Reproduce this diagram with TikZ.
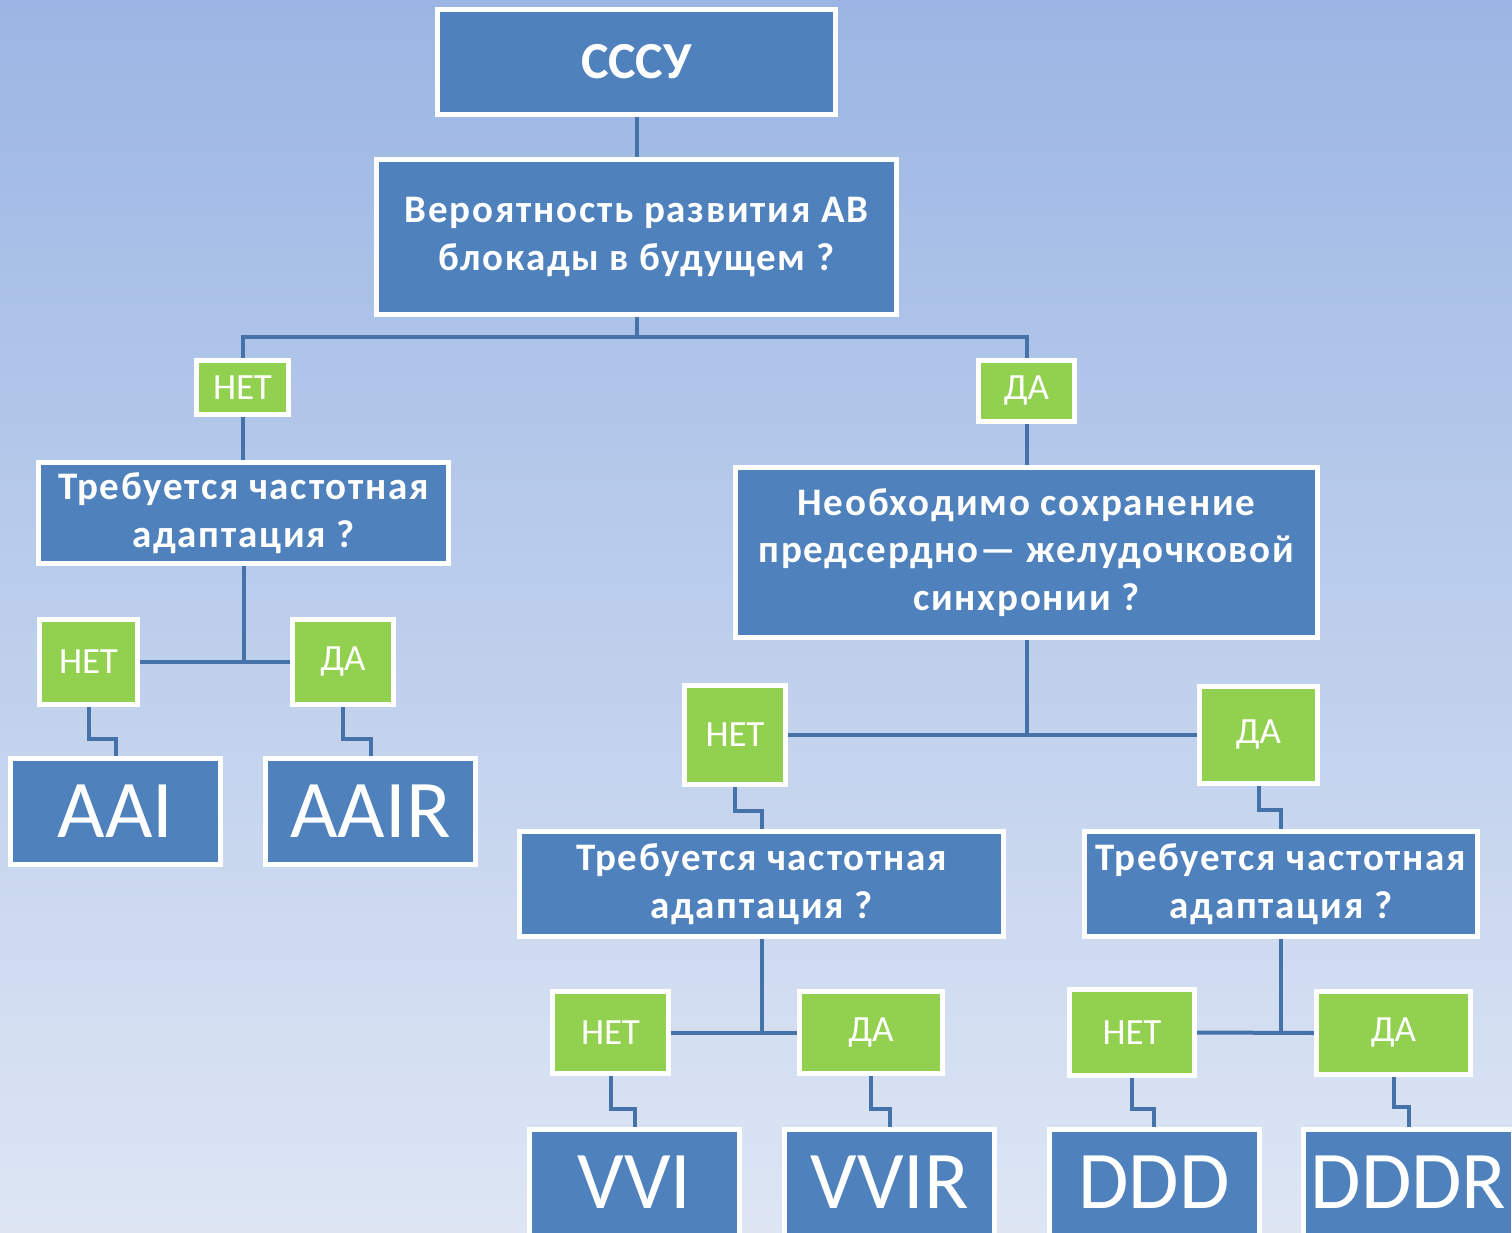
\documentclass[tikz,border=0pt]{standalone}
\usepackage{fontspec}
\setmainfont{Carlito}
\newfontfamily\qfont[LetterSpace=4.5]{Carlito}
\usetikzlibrary{calc}
\definecolor{boxblue}{RGB}{79,129,189}
\definecolor{lblgreen}{RGB}{146,208,80}
\definecolor{conn}{RGB}{70,114,170}
\definecolor{bgtop}{RGB}{155,182,228}
\definecolor{bgbot}{RGB}{222,230,244}
\pgfdeclarelayer{bglayer}
\pgfdeclarelayer{links}
\pgfsetlayers{bglayer,links,main}
\begin{document}
\begin{tikzpicture}[x=1pt,y=-1pt,
  base/.style={draw=white, line width=5pt, inner sep=0pt, text=white, align=center},
  qbox/.style={base, fill=boxblue, font=\qfont\bfseries\fontsize{39}{47.5}\selectfont},
  lbl/.style={base, fill=lblgreen, font=\fontsize{37}{40}\selectfont},
  mode/.style={base, fill=boxblue, font=\fontsize{82}{90}\selectfont, minimum width=210pt, minimum height=106pt},
  sz/.style 2 args={minimum width=#1pt, minimum height=#2pt},
  link/.style={draw=conn, line width=4pt}]
\useasboundingbox (0,0) rectangle (1512,1233);
\begin{pgfonlayer}{bglayer}
  \fill[top color=bgtop, bottom color=bgbot] (0,0) rectangle (1512,1233);
\end{pgfonlayer}

\node[qbox, sz={398}{105}, font=\bfseries\fontsize{52}{60}\selectfont] (top) at (636.5,62) {СССУ};
\node[qbox, sz={520}{155}] (q1) at (636.5,237) {Вероятность развития АВ\\блокады в будущем ?};
\node[lbl, sz={92}{54}] (n1) at (242.5,387.5) {НЕТ};
\node[lbl, sz={96}{61}] (d1) at (1026.5,391) {ДА};
\node[qbox, sz={410}{101}] (qL) at (243.5,513) {Требуется частотная\\адаптация ?};
\node[lbl, sz={98}{85}] (n2) at (88.5,662) {НЕТ};
\node[lbl, sz={101}{85}] (d2) at (343,662) {ДА};
\node[mode] (aai) at (115.5,811.5) {AAI};
\node[mode] (aair) at (370.5,811.5) {AAIR};
\node[qbox, sz={582}{170}] (qR) at (1026.5,552.5) {Необходимо сохранение\\предсердно\kern2pt—{} желудочковой\\синхронии ?};
\node[lbl, sz={101}{99}] (n3) at (735,735) {НЕТ};
\node[lbl, sz={118}{97}] (d3) at (1258.5,735) {ДА};
\node[qbox, sz={484}{105}] (qV) at (761.5,884) {Требуется частотная\\адаптация ?};
\node[qbox, sz={393}{105}] (qD) at (1281,884) {Требуется частотная\\адаптация ?};
\node[lbl, sz={116}{82}] (n4) at (610.5,1032.5) {НЕТ};
\node[lbl, sz={143}{82}] (d4) at (871,1032.5) {ДА};
\node[lbl, sz={125}{86}] (n5) at (1132,1032.5) {НЕТ};
\node[lbl, sz={154}{83}] (d5) at (1393.5,1033) {ДА};
\node[mode] (vvi) at (634.5,1182.5) {VVI};
\node[mode] (vvir) at (889.5,1182.5) {VVIR};
\node[mode] (ddd) at (1154,1182.5) {DDD};
\node[mode] (dddr) at (1408.5,1182.5) {DDDR};

\begin{pgfonlayer}{links}
  \coordinate (j1) at (636.5,337);
  \draw[link] (top.south) -- (q1.north);
  \draw[link] (q1.south) -- (j1);
  \draw[link] (n1.north) |- (j1) -| (d1.north);
  \draw[link] (n1.south) -- (n1.south |- qL.north);
  \draw[link] (d1.south) -- (d1.south |- qR.north);
  \draw[link] (qL.south) -- (qL.south |- n2.east);
  \draw[link] (n2.east) -- (d2.west);
  \draw[link] (n2.south) -- ++(0,32) -| (aai.north);
  \draw[link] (d2.south) -- ++(0,32) -| (aair.north);
  \draw[link] (qR.south) -- (qR.south |- n3.east);
  \draw[link] (n3.east) -- (d3.west);
  \draw[link] (n3.south) -- ++(0,24) -| (qV.north);
  \draw[link] (d3.south) -- ++(0,24) -| (qD.north);
  \draw[link] (qV.south) -- (qV.south |- n4.east);
  \draw[link] (n4.east) -- (d4.west);
  \draw[link] (n4.south) -- ++(0,33) -| (vvi.north);
  \draw[link] (d4.south) -- ++(0,33) -| (vvir.north);
  \draw[link] (qD.south) -- (qD.south |- n5.east);
  \draw[link] (n5.east) -- (d5.west);
  \draw[link] (n5.south) -- ++(0,31) -| (ddd.north);
  \draw[link] (d5.south) -- ++(0,30) -| (dddr.north);
\end{pgfonlayer}
\end{tikzpicture}
\end{document}
